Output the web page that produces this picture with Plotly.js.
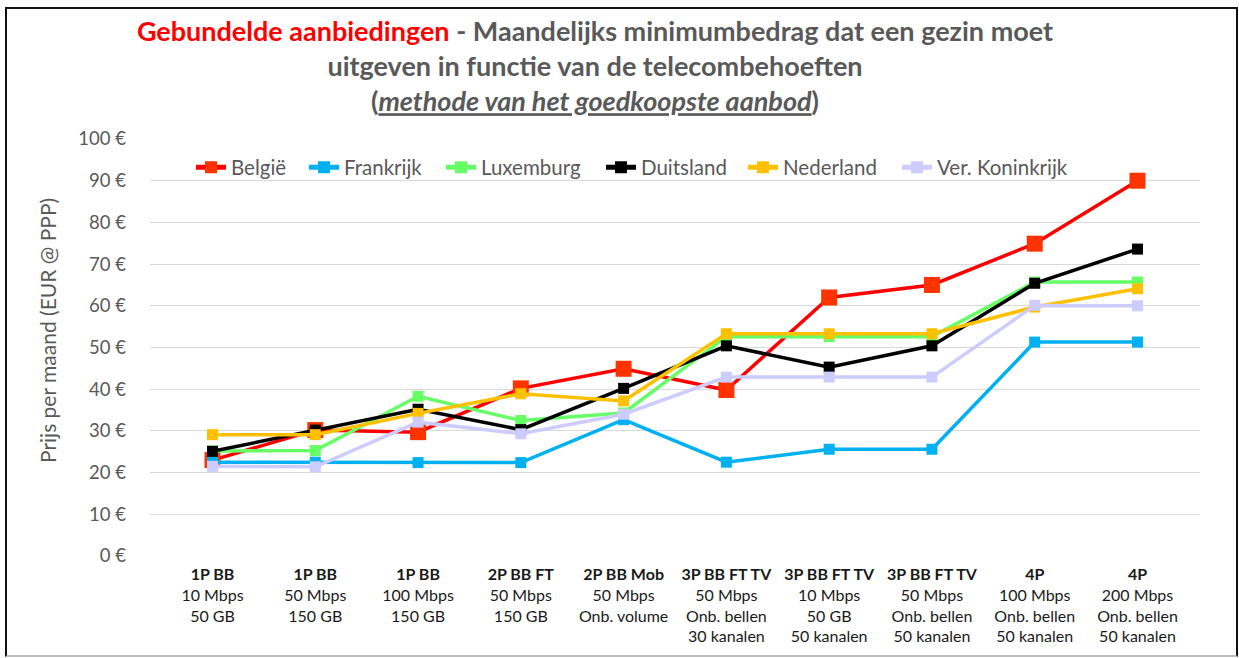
<!DOCTYPE html>
<html>
<head>
<meta charset="utf-8">
<script src="https://cdn.plot.ly/plotly-3.0.1.min.js"></script>
<style>
  html, body { margin: 0; padding: 0; background: #fff; }
  #wrap { position: relative; width: 1239px; height: 658px; }
  #chart { width: 1239px; height: 658px; }
  #frame { position: absolute; left: 5px; top: 7px; width: 1229px; height: 646px;
           border-top: 2px solid #111; border-left: 2px solid #111; border-right: 2px solid #111;
           border-bottom: 2px solid #bfbfbf; pointer-events: none; }
</style>
</head>
<body>
<div id="wrap">
  <div id="chart"></div>
  <div id="frame"></div>
</div>
<script>
// Categories (tick labels)
const categories = [
  "<b>1P BB</b><br>10 Mbps<br>50 GB",
  "<b>1P BB</b><br>50 Mbps<br>150 GB",
  "<b>1P BB</b><br>100 Mbps<br>150 GB",
  "<b>2P BB FT</b><br>50 Mbps<br>150 GB",
  "<b>2P BB Mob</b><br>50 Mbps<br>Onb. volume",
  "<b>3P BB FT TV</b><br>50 Mbps<br>Onb. bellen<br>30 kanalen",
  "<b>3P BB FT TV</b><br>10 Mbps<br>50 GB<br>50 kanalen",
  "<b>3P BB FT TV</b><br>50 Mbps<br>Onb. bellen<br>50 kanalen",
  "<b>4P</b><br>100 Mbps<br>Onb. bellen<br>50 kanalen",
  "<b>4P</b><br>200 Mbps<br>Onb. bellen<br>50 kanalen"
];

// Series values (EUR @ PPP per month)
const belgie        = [23.0, 30.2, 29.7, 40.2, 44.9, 39.8, 62.0, 65.0, 74.9, 90.0];
const frankrijk     = [22.5, 22.5, 22.4, 22.4, 32.7, 22.5, 25.6, 25.6, 51.3, 51.3];
const luxemburg     = [25.2, 25.3, 38.3, 32.5, 34.3, 52.6, 52.6, 52.6, 65.7, 65.7];
const duitsland     = [25.1, 30.2, 35.2, 30.3, 40.2, 50.4, 45.3, 50.4, 65.4, 73.6];
const nederland     = [29.1, 29.1, 34.2, 38.9, 37.2, 53.3, 53.3, 53.3, 59.7, 64.1];
const verKoninkrijk = [21.5, 21.4, 32.1, 29.3, 34.0, 42.9, 42.9, 42.9, 60.1, 60.0];

const seriesNames = ["België", "Frankrijk", "Luxemburg", "Duitsland", "Nederland", "Ver. Koninkrijk"];
const seriesData = [belgie, frankrijk, luxemburg, duitsland, nederland, verKoninkrijk];

const yTicks = [0, 10, 20, 30, 40, 50, 60, 70, 80, 90, 100];
const yTickText = yTicks.map(v => v + " €");

// styling
const lineColors = ["#FF0000", "#00B0F0", "#66FF66", "#000000", "#FFC000", "#CCCCFF"];
const markerColors = ["#FF3300", "#00B0F0", "#66FF66", "#000000", "#FFC000", "#CCCCFF"];
const markerSizes = [16, 11, 11, 11, 11, 11];
const legendIds = ["legend", "legend2", "legend3", "legend4", "legend5", "legend6"];
const legendPx = [191, 304, 441, 601, 743, 897];   // left edge of each legend entry (px)

const FONT = "Lato, 'Open Sans', sans-serif";
const PL = 150, PW = 1050, PB = 556, PH = 417;

const traces = seriesData.map((vals, i) => ({
  type: "scatter",
  mode: "lines+markers",
  name: seriesNames[i],
  legend: legendIds[i],
  x: categories,
  y: vals,
  line: { color: lineColors[i], width: 3.5 },
  marker: { symbol: "square", size: markerSizes[i], color: markerColors[i] },
  cliponaxis: false
}));

const layout = {
  width: 1239,
  height: 658,
  paper_bgcolor: "#ffffff",
  plot_bgcolor: "#ffffff",
  margin: { l: 150, r: 39, t: 139, b: 102, autoexpand: false },
  font: { family: FONT, color: "#595959" },
  title: {
    text: "<span style='color:#FF0000'>Gebundelde aanbiedingen</span> - Maandelijks minimumbedrag dat een gezin moet<br>uitgeven in functie van de telecombehoeften<br>(<i><u>methode van het goedkoopste aanbod</u></i>)",
    font: { family: FONT, size: 27, color: "#595959", weight: "bold" },
    x: 595 / 1239,
    xanchor: "center",
    xref: "container",
    y: 1 - 41 / 658,
    yanchor: "top",
    yref: "container"
  },
  xaxis: {
    type: "category",
    showgrid: false,
    zeroline: false,
    showline: false,
    ticks: "",
    tickfont: { family: FONT, size: 16, color: "#1a1a1a" },
    ticklabelstandoff: 7,
    fixedrange: true
  },
  yaxis: {
    range: [0, 100],
    tickvals: yTicks,
    ticktext: yTickText,
    showgrid: true,
    gridcolor: "#D9D9D9",
    gridwidth: 1,
    zeroline: false,
    showline: false,
    ticks: "",
    tickfont: { family: FONT, size: 18.5, color: "#595959" },
    ticklabelstandoff: 23,
    fixedrange: true
  },
  showlegend: true,
  annotations: [{
    text: "Prijs per maand (EUR @ PPP)",
    textangle: -90,
    xref: "paper", yref: "paper",
    x: (47 - PL) / PW,
    y: (PB - 331) / PH,
    xanchor: "center", yanchor: "middle",
    showarrow: false,
    font: { family: FONT, size: 21, color: "#595959" }
  }]
};

legendIds.forEach((id, i) => {
  layout[id] = {
    orientation: "h",
    x: (legendPx[i] - PL) / PW,
    xanchor: "left",
    y: (PB - 147.5) / PH,
    yanchor: "top",
    bgcolor: "rgba(255,255,255,0)",
    font: { family: FONT, size: 20.5, color: "#595959" },
    itemsizing: "constant",
    itemwidth: 30
  };
});

Plotly.newPlot("chart", traces, layout, { staticPlot: true, displayModeBar: false });
</script>
</body>
</html>
